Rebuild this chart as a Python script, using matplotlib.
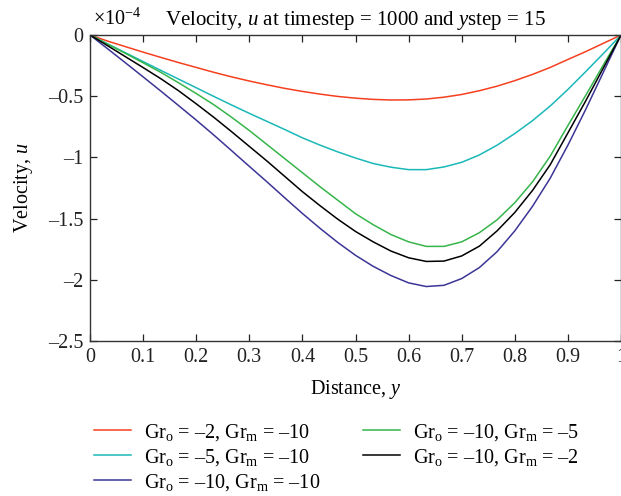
import matplotlib
matplotlib.use("Agg")
import matplotlib.pyplot as plt
from matplotlib.ticker import FuncFormatter, FixedLocator

plt.rcParams['font.family'] = ['Liberation Serif', 'DejaVu Serif']
plt.rcParams['mathtext.fontset'] = 'custom'
plt.rcParams['mathtext.rm'] = 'Liberation Serif'
plt.rcParams['mathtext.it'] = 'Liberation Serif:italic'

# Distance y (31 grid points)
y_dist = [i / 30 for i in range(31)]

# Velocity u (x 1e-4)
u_gro2_grm10 = [0, -0.05, -0.095, -0.14, -0.183, -0.225, -0.265, -0.305, -0.342, -0.376,
                -0.407, -0.436, -0.461, -0.483, -0.502, -0.516, -0.526, -0.531, -0.53, -0.523,
                -0.508, -0.486, -0.455, -0.418, -0.373, -0.322, -0.265, -0.2, -0.136, -0.068, 0]
u_gro5_grm10 = [0, -0.073, -0.145, -0.217, -0.289, -0.36, -0.431, -0.502, -0.572, -0.64,
                -0.706, -0.772, -0.84, -0.9, -0.955, -1.005, -1.05, -1.08, -1.1, -1.1,
                -1.078, -1.04, -0.98, -0.9, -0.805, -0.7, -0.58, -0.445, -0.3, -0.152, 0]
u_gro10_grm10 = [0, -0.113, -0.227, -0.342, -0.458, -0.576, -0.695, -0.818, -0.945, -1.073,
                 -1.2, -1.33, -1.458, -1.58, -1.695, -1.8, -1.89, -1.965, -2.025, -2.055,
                 -2.045, -1.99, -1.9, -1.77, -1.6, -1.4, -1.17, -0.9, -0.61, -0.305, 0]
u_gro10_grm5 = [0, -0.075, -0.15, -0.227, -0.305, -0.39, -0.478, -0.57, -0.672, -0.78,
                -0.895, -1.01, -1.125, -1.24, -1.35, -1.46, -1.55, -1.63, -1.69, -1.727,
                -1.727, -1.69, -1.615, -1.51, -1.37, -1.2, -0.99, -0.74, -0.495, -0.245, 0]
u_gro10_grm2 = [0, -0.088, -0.177, -0.266, -0.357, -0.455, -0.562, -0.673, -0.79, -0.91,
                -1.03, -1.155, -1.28, -1.395, -1.505, -1.605, -1.69, -1.765, -1.82, -1.85,
                -1.847, -1.805, -1.725, -1.6, -1.45, -1.27, -1.06, -0.8, -0.54, -0.27, 0]

labels = ["Gr$_\\mathrm{o}$ = \u20132, Gr$_\\mathrm{m}$ = \u201310",
          "Gr$_\\mathrm{o}$ = \u20135, Gr$_\\mathrm{m}$ = \u201310",
          "Gr$_\\mathrm{o}$ = \u201310, Gr$_\\mathrm{m}$ = \u201310",
          "Gr$_\\mathrm{o}$ = \u201310, Gr$_\\mathrm{m}$ = \u20135",
          "Gr$_\\mathrm{o}$ = \u201310, Gr$_\\mathrm{m}$ = \u20132"]
series = [u_gro2_grm10, u_gro5_grm10, u_gro10_grm10, u_gro10_grm5, u_gro10_grm2]
colors = ['#f5401f', '#1ab8b8', '#3c3596', '#36b54a', '#000000']

xticks = [0, 0.1, 0.2, 0.3, 0.4, 0.5, 0.6, 0.7, 0.8, 0.9, 1]
yticks = [-2.5, -2, -1.5, -1, -0.5, 0]

FS = 14.5
W, H = 621, 496
fig = plt.figure(figsize=(W / 100, H / 100), dpi=100)
ax = fig.add_axes([90 / W, 1 - 341 / H, 531 / W, 306 / H])

for s, c, l in zip(series, colors, labels):
    ax.plot(y_dist, s, color=c, lw=1.1, label=l)

ax.set_xlim(0, 1)
ax.set_ylim(-2.5, 0)
ax.xaxis.set_major_locator(FixedLocator(xticks))
ax.yaxis.set_major_locator(FixedLocator(yticks))
fmt = FuncFormatter(lambda v, p: ('%g' % v).replace('-', '\u2013'))
ax.xaxis.set_major_formatter(fmt)
ax.yaxis.set_major_formatter(fmt)
ax.tick_params(direction='in', top=True, right=True, length=5, width=0.9,
               labelsize=FS, colors='#222222', pad=5)
for sp in ax.spines.values():
    sp.set_linewidth(1.0)
    sp.set_color('#333333')

ax.set_xlabel("Distance, $y$", fontsize=FS, labelpad=8)
ax.set_ylabel("Velocity, $u$", fontsize=FS, labelpad=9)
ax.set_title("Velocity, $u$ at timestep = 1000 and $y$step = 15", fontsize=15, pad=7)
fig.text(93 / W, 1 - 25 / H, "\u00d710$^{\u22124}$", fontsize=FS, ha='left', va='baseline')

ax.legend(loc='upper left', bbox_to_anchor=(86 / W, 1 - 414 / H), bbox_transform=fig.transFigure,
          ncol=2, frameon=False, fontsize=FS, handlelength=1.85, handletextpad=0.65,
          columnspacing=2.1, labelspacing=0.2, borderaxespad=0)

fig.savefig("out.png", dpi=100)
